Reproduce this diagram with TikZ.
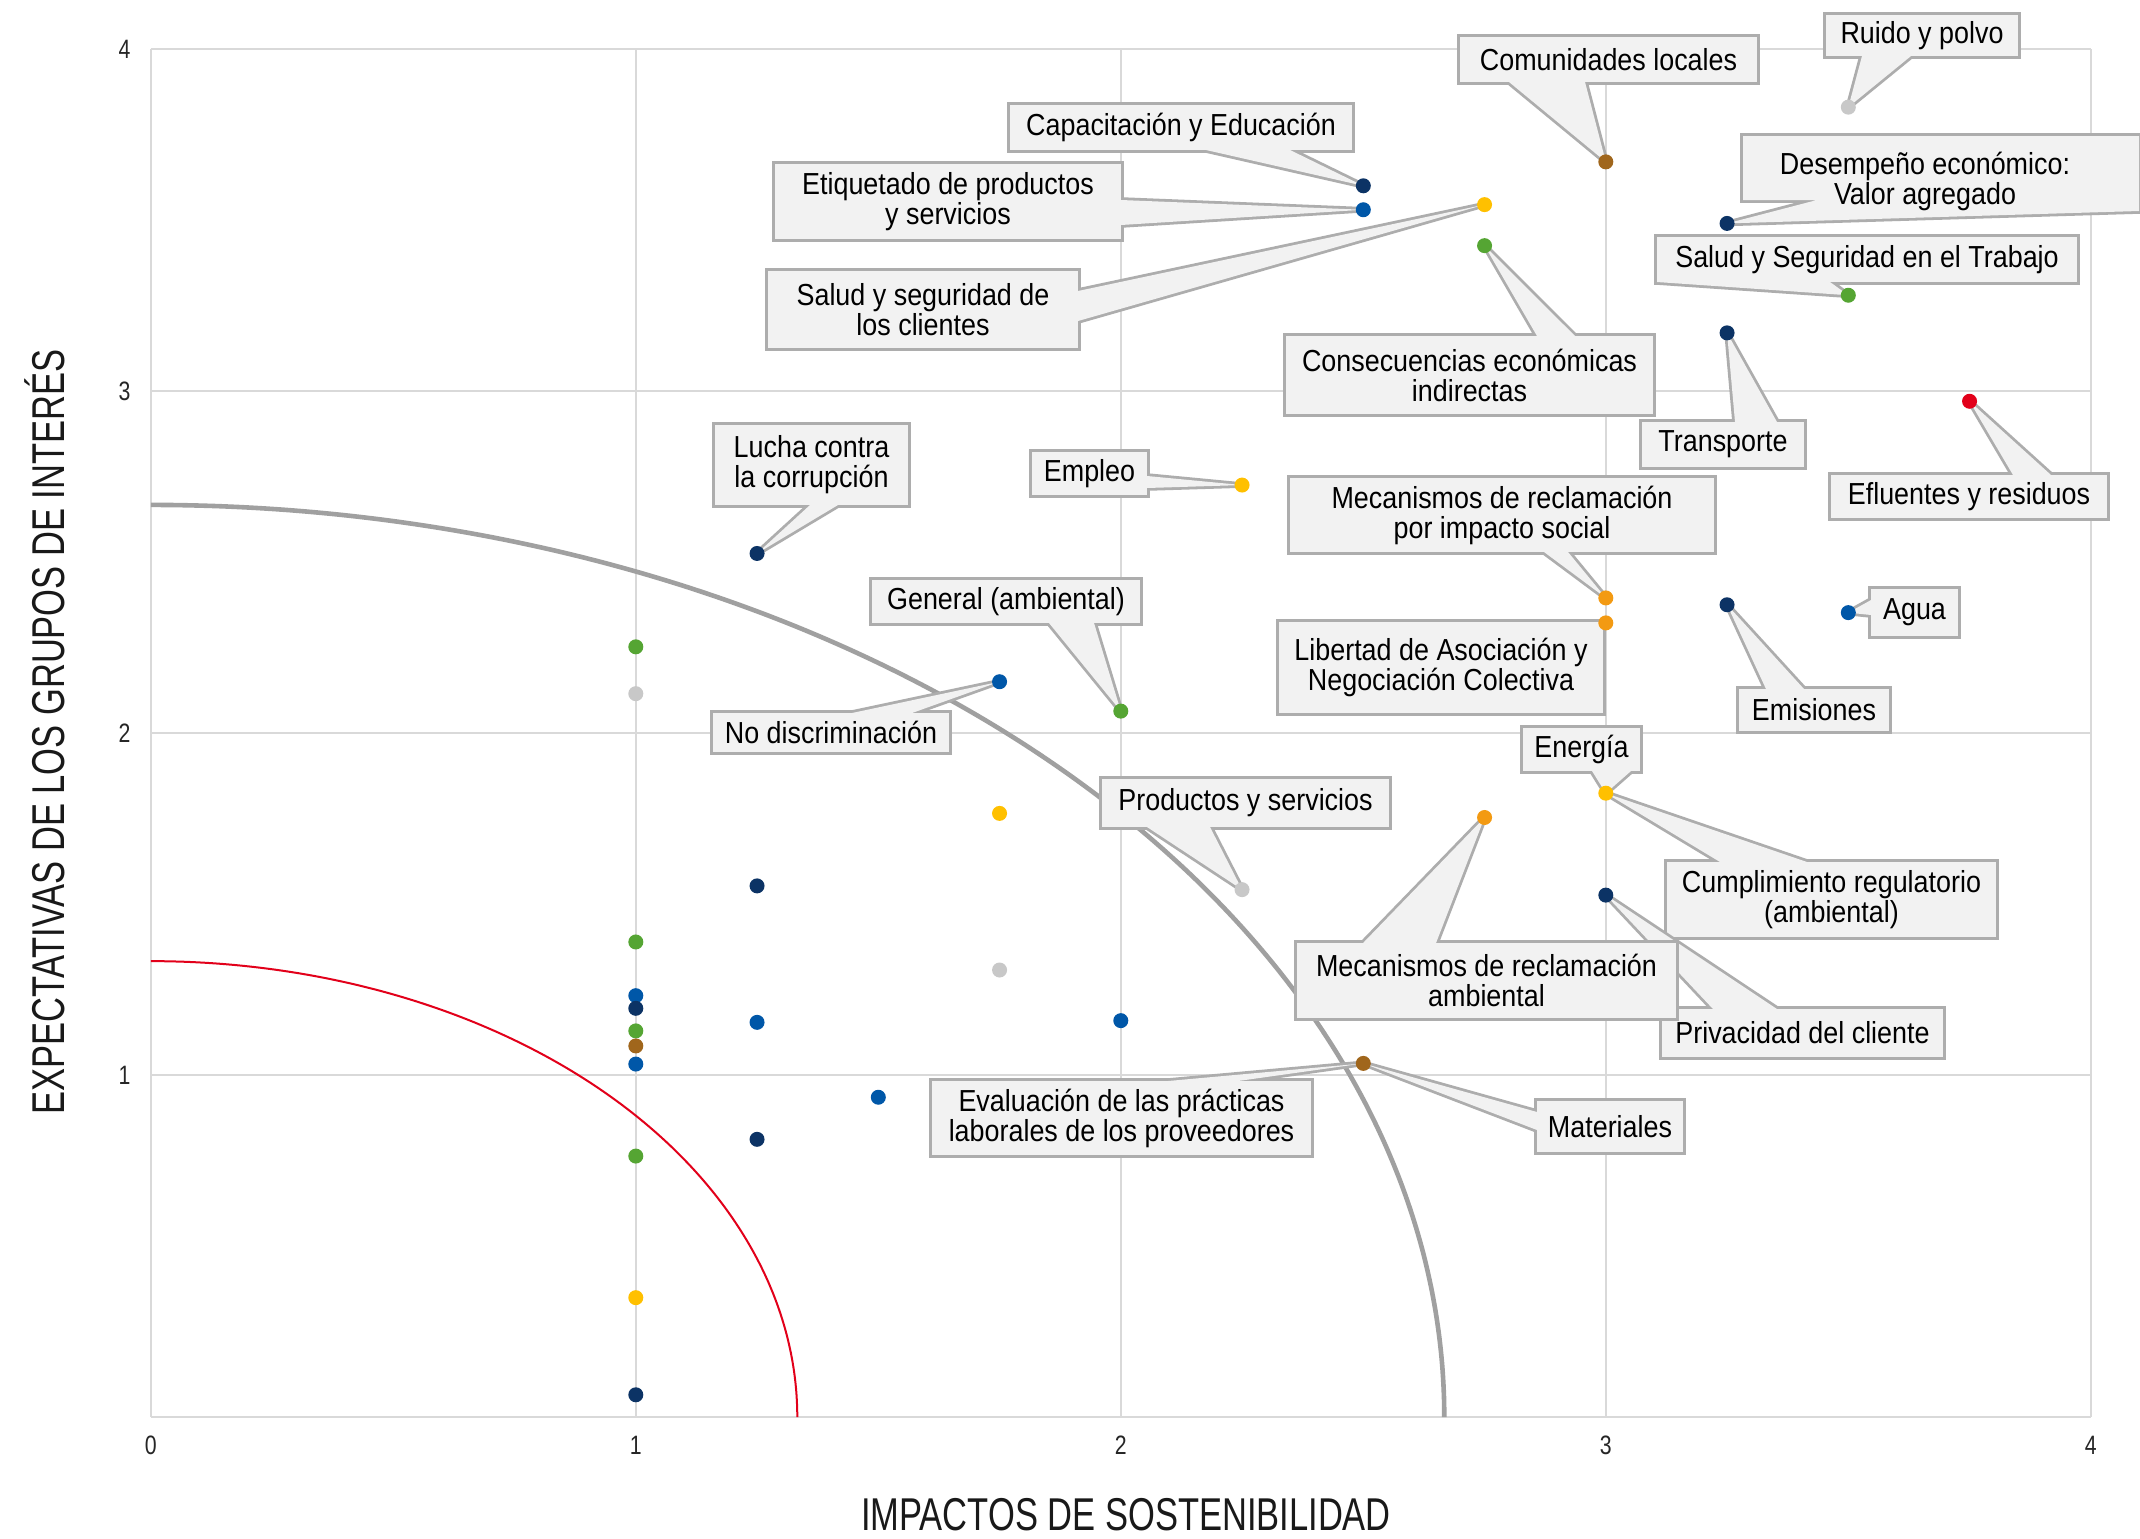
\documentclass[tikz,border=0pt]{standalone}
\usepackage{fontspec}
\setmainfont{Liberation Sans}
\newfontfamily\lblfont[FakeStretch=0.885]{Liberation Sans}
\newfontfamily\axfont[FakeStretch=0.75]{Liberation Sans}
\newfontfamily\tickfont[FakeStretch=0.8]{Liberation Sans}
\usetikzlibrary{calc}
\pgfdeclarelayer{bg}
\pgfdeclarelayer{fg}
\pgfsetlayers{bg,main,fg}
\definecolor{cNavy}{HTML}{0C3365}
\definecolor{cBlue}{HTML}{0057A8}
\definecolor{cGreen}{HTML}{55A533}
\definecolor{cYellow}{HTML}{FFC000}
\definecolor{cOrange}{HTML}{F39A12}
\definecolor{cBrown}{HTML}{A0661C}
\definecolor{cGray}{HTML}{C8C8C8}
\definecolor{cRed}{HTML}{E2001A}
\definecolor{cBorder}{HTML}{ADADAD}
\definecolor{cFill}{HTML}{F2F2F2}
\definecolor{cGrid}{HTML}{D9D9D9}
\definecolor{cArc}{HTML}{A0A0A0}
\tikzset{
  dot/.style={circle, inner sep=0pt, outer sep=0pt, minimum size=7.5pt, fill=#1, draw=none},
  lbl/.style={inner sep=0pt, outer sep=0pt, align=center, text=black,
              font=\lblfont\fontsize{15.2}{15}\selectfont},
  cstroke/.style={draw=cBorder, line width=2.8pt, line join=miter, miter limit=2},
  cfill/.style={fill=cFill},
  gridline/.style={draw=cGrid, line width=0.7pt},
  ticklbl/.style={inner sep=0pt, text=black!85, font=\tickfont\fontsize{13.3}{14}\selectfont},
  axtitle/.style={inner sep=0pt, text=black!90, font=\axfont\fontsize{23}{26}\selectfont},
  datasc/.style={shift={(150.8,1417)}, x=242.5pt, y=171pt}
}
\newcommand\callout[6]{%
  \pgfmathsetmacro\cwid{(#4-#2)*0.5}%
  \pgfmathsetmacro\chei{(#5-#3)*0.5}%
  \node[lbl, minimum width=\cwid pt, minimum height=\chei pt] (#1) at ({(#2+#4)/2},{(#3+#5)/2}) {#6};}
\newcommand\cshape[2]{%
  \draw[cstroke] (#1.south west) rectangle (#1.north east) #2;
  \fill[cfill] (#1.south west) rectangle (#1.north east);
  \fill[cfill] #2;}
\newcommand\cwedge[6]{\cshape{#1}{($(#1.north west)+(#2,#3)$) -- (#6.center) -- ($(#1.north west)+(#4,#5)$) -- cycle}}
\begin{document}
\begin{tikzpicture}[x=0.5pt, y=-0.5pt]
\useasboundingbox (0,0) rectangle (2140,1538);

% ---------- data points ----------
\begin{pgfonlayer}{fg}
\begin{scope}[datasc]
\node[dot=cGray]   (pruido) at (3.5,3.83) {};
\node[dot=cBrown]  (pcom)   at (3.0,3.67) {};
\node[dot=cNavy]   (pcap)   at (2.5,3.60) {};
\node[dot=cBlue]   (peti)   at (2.5,3.53) {};
\node[dot=cYellow] (psalc)  at (2.75,3.545) {};
\node[dot=cGreen]  (pcons)  at (2.75,3.425) {};
\node[dot=cNavy]   (pdes)   at (3.25,3.49) {};
\node[dot=cGreen]  (psst)   at (3.5,3.28) {};
\node[dot=cNavy]   (ptrans) at (3.25,3.17) {};
\node[dot=cRed]    (pefl)   at (3.75,2.97) {};
\node[dot=cYellow] (pemp)   at (2.25,2.725) {};
\node[dot=cNavy]   (plucha) at (1.25,2.525) {};
\node[dot=cOrange] (pmecs)  at (3.0,2.395) {};
\node[dot=cOrange] (plib)   at (3.0,2.322) {};
\node[dot=cNavy]   (pemi)   at (3.25,2.375) {};
\node[dot=cBlue]   (pagua)  at (3.5,2.352) {};
\node[dot=cBlue]   (pnodis) at (1.75,2.15) {};
\node[dot=cGreen]  (pgen)   at (2.0,2.064) {};
\node[dot=cYellow] (pene)   at (3.0,1.824) {};
\node[dot=cGray]   (pprod)  at (2.25,1.542) {};
\node[dot=cOrange] (pmeca)  at (2.75,1.753) {};
\node[dot=cNavy]   (ppriv)  at (3.0,1.526) {};
\node[dot=cBrown]  (pmat)   at (2.5,1.034) {};
% unlabelled points
\node[dot=cGreen]  (q1)  at (1,2.252) {};
\node[dot=cGray]   (q2)  at (1,2.115) {};
\node[dot=cYellow] (q3)  at (1.75,1.765) {};
\node[dot=cNavy]   (q4)  at (1.25,1.553) {};
\node[dot=cGreen]  (q5)  at (1,1.389) {};
\node[dot=cGray]   (q6)  at (1.75,1.307) {};
\node[dot=cBlue]   (q7)  at (1,1.232) {};
\node[dot=cNavy]   (q8)  at (1,1.195) {};
\node[dot=cBlue]   (q9)  at (1.25,1.154) {};
\node[dot=cBlue]   (q10) at (2,1.159) {};
\node[dot=cGreen]  (q11) at (1,1.129) {};
\node[dot=cBrown]  (q12) at (1,1.085) {};
\node[dot=cBlue]   (q13) at (1,1.032) {};
\node[dot=cBlue]   (q14) at (1.5,0.935) {};
\node[dot=cNavy]   (q15) at (1.25,0.812) {};
\node[dot=cGreen]  (q16) at (1,0.763) {};
\node[dot=cYellow] (q17) at (1,0.349) {};
\node[dot=cNavy]   (q18) at (1,0.065) {};
\end{scope}
\end{pgfonlayer}

% ---------- axis labels ----------
\begin{scope}[datasc]
\foreach \v in {1,2,3,4} {\node[ticklbl, anchor=east] (ty\v) at (-0.041,\v) {\v};}
\foreach \v in {0,1,2,3,4} {\node[ticklbl] (tx\v) at (\v,-0.082) {\v};}
\end{scope}
\node[axtitle, rotate=90] (ytitle) at (45,732) {EXPECTATIVAS DE LOS GRUPOS DE INTERÉS};
\node[axtitle] (xtitle) at (1126,1515) {IMPACTOS DE SOSTENIBILIDAD};

% ---------- callout boxes (text) ----------
\callout{ruido}{1826}{15}{2018}{56}{Ruido y polvo}
\callout{com}{1460}{37}{1757}{82}{Comunidades locales}
\callout{cap}{1010}{105}{1352}{150}{Capacitación y Educación}
\callout{eti}{775}{164}{1121}{239}{Etiquetado de productos\\y servicios}
\callout{salc}{768}{271}{1078}{348}{Salud y seguridad de\\los clientes}
\callout{cons}{1286}{336}{1653}{414}{Consecuencias económicas\\indirectas}
\callout{des}{1743}{136}{2139}{211}{}
\node[lbl] (desT) at (1925,181) {Desempeño económico:\\Valor agregado};
\callout{sst}{1657}{237}{2077}{282}{Salud y Seguridad en el Trabajo}
\callout{trans}{1642}{422}{1804}{467}{Transporte}
\callout{efl}{1831}{475}{2107}{518}{Efluentes y residuos}
\callout{emp}{1032}{452}{1147}{495}{Empleo}
\callout{lucha}{715}{425}{908}{505}{Lucha contra\\la corrupción}
\callout{mecs}{1290}{478}{1714}{552}{Mecanismos de reclamación\\por impacto social}
\callout{lib}{1279}{622}{1603}{713}{Libertad de Asociación y\\Negociación Colectiva}
\callout{agua}{1871}{589}{1958}{636}{Agua}
\callout{emi}{1739}{689}{1889}{731}{Emisiones}
\callout{nodis}{713}{713}{949}{752}{No discriminación}
\callout{gen}{872}{580}{1140}{623}{General (ambiental)}
\callout{ene}{1523}{728}{1640}{771}{Energía}
\callout{prod}{1102}{779}{1389}{827}{Productos y servicios}
\callout{cum}{1667}{862}{1996}{937}{Cumplimiento regulatorio\\(ambiental)}
\callout{meca}{1297}{943}{1676}{1018}{Mecanismos de reclamación\\ambiental}
\callout{priv}{1662}{1009}{1943}{1057}{Privacidad del cliente}
\callout{mat}{1537}{1101}{1683}{1152}{Materiales}
\callout{eva}{932}{1081}{1311}{1155}{Evaluación de las prácticas\\laborales de los proveedores}

% ---------- background: grid, curves, callout shapes ----------
\begin{pgfonlayer}{bg}
\fill[white] (0,0) rectangle (2140,1538);
\begin{scope}[datasc]
\foreach \v in {0,1,2,3,4} {
  \draw[gridline] (\v,0) -- (\v,4);
  \draw[gridline] (0,\v) -- (4,\v);
}
\draw[cArc, line width=2.3pt] plot[domain=90:0, samples=90, smooth] ({2.667*cos(\x)},{2.667*sin(\x)});
\draw[cRed, line width=1pt] plot[domain=90:0, samples=90, smooth] ({1.333*cos(\x)},{1.333*sin(\x)});
\end{scope}

\cwedge{ruido}{36}{41}{85}{41}{pruido}
\cwedge{com}{49}{45}{125}{45}{pcom}
\cwedge{cap}{196}{45}{280}{45}{pcap}
\cwedge{eti}{346}{36}{346}{61}{peti}
\cwedge{salc}{310}{20}{310}{50}{psalc}
\cwedge{cons}{251}{0}{289}{0}{pcons}
\draw[cstroke] (des.north west) -- (des.north east) -- (des.south east) -- (pdes.center)
   -- ($(des.north west)+(74,64)$) -- ($(des.north west)+(0,64)$) -- cycle;
\fill[cfill] (des.north west) -- (des.north east) -- (des.south east) -- (pdes.center)
   -- ($(des.north west)+(74,64)$) -- ($(des.north west)+(0,64)$) -- cycle;
\cwedge{sst}{0}{45}{173}{45}{psst}
\cwedge{trans}{93}{0}{135}{0}{ptrans}
\cwedge{efl}{182}{0}{220}{0}{pefl}
\cwedge{emp}{115}{24}{115}{36}{pemp}
\cwedge{lucha}{95}{80}{123}{80}{plucha}
\cwedge{mecs}{254}{74}{278}{74}{pmecs}
\cwedge{lib}{244}{0}{324}{7}{plib}
\cwedge{agua}{0}{11}{0}{26}{pagua}
\cwedge{emi}{27}{0}{65}{0}{pemi}
\cwedge{nodis}{139}{0}{199}{0}{pnodis}
\cwedge{gen}{177}{43}{222}{43}{pgen}
\cwedge{ene}{69}{43}{108}{43}{pene}
\cwedge{prod}{45}{48}{108}{48}{pprod}
\cwedge{cum}{53}{0}{140}{0}{pene}
\cwedge{priv}{51}{0}{115}{0}{ppriv}
\cwedge{meca}{66}{0}{139}{0}{pmeca}
\cwedge{mat}{0}{11}{0}{29}{pmat}
\cwedge{eva}{236}{0}{306}{0}{pmat}
\end{pgfonlayer}
\end{tikzpicture}
\end{document}
